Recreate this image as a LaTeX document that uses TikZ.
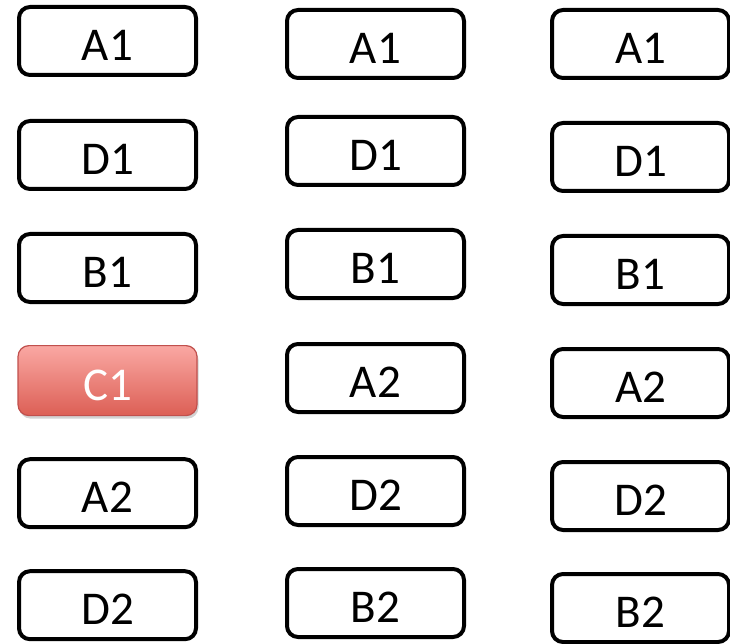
\documentclass[tikz,border=0pt]{standalone}
\usepackage{fontspec}
\setmainfont{Carlito}
\usepackage{tikz}
\usetikzlibrary{positioning,shadows}

\definecolor{hotred}{HTML}{C0504D}
\definecolor{hotlight}{HTML}{FAA8A3}
\definecolor{hotdark}{HTML}{DC5F55}

\begin{document}
\begin{tikzpicture}[
  x=1pt, y=1pt,
  font=\fontsize{47}{50}\selectfont,
  cell/.style={rectangle, draw, line width=4pt, rounded corners=11pt, align=center, minimum width=177pt, minimum height=68pt, text height=39pt, text depth=0pt},
  hot/.style={cell, draw=hotred, line width=1.2pt, top color=hotlight, bottom color=hotdark, text=white, drop shadow={shadow xshift=1.5pt, shadow yshift=-3pt, opacity=0.35}}
]
\useasboundingbox (0,0) rectangle (730,-644);
% First column: the run with C1 marked
\node[cell] (a1) at (107.5,-41) {A1};
\node[cell, below=42pt of a1] (d1) {D1};
\node[cell, below=41pt of d1] (b1) {B1};
\node[hot, below=41pt of b1, minimum width=179pt, minimum height=70pt] (c1) {C1};
\node[cell, below=41pt of c1] (a2) {A2};
\node[cell, below=40pt of a2] (d2) {D2};
% Second column
\node[cell] (a1m) at (375.5,-44) {A1};
\node[cell, below=35pt of a1m] (d1m) {D1};
\node[cell, below=41pt of d1m] (b1m) {B1};
\node[cell, below=42pt of b1m] (a2m) {A2};
\node[cell, below=41pt of a2m] (d2m) {D2};
\node[cell, below=40pt of d2m] (b2m) {B2};
% Third column
\node[cell] (a1r) at (640.5,-44) {A1};
\node[cell, below=41pt of a1r] (d1r) {D1};
\node[cell, below=41pt of d1r] (b1r) {B1};
\node[cell, below=41pt of b1r] (a2r) {A2};
\node[cell, below=41pt of a2r] (d2r) {D2};
\node[cell, below=40pt of d2r] (b2r) {B2};
\end{tikzpicture}
\end{document}
